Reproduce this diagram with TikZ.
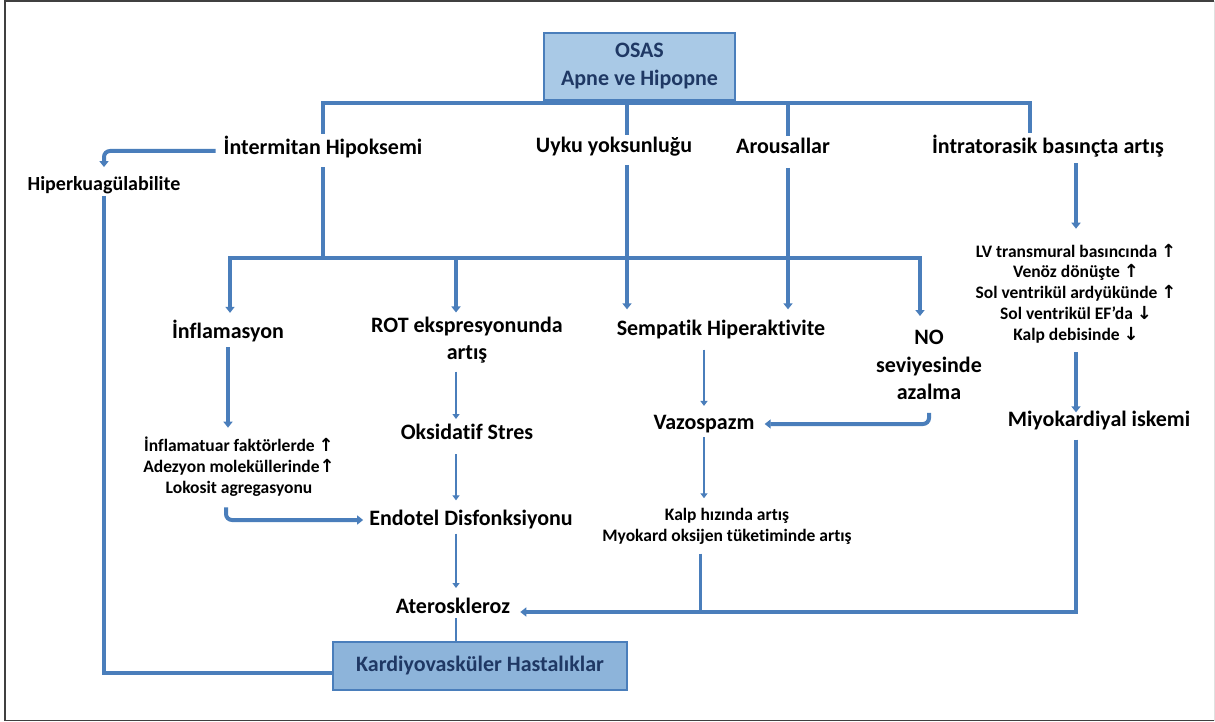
\documentclass[tikz,border=0pt]{standalone}
\usepackage{fontspec}
\setmainfont{Carlito}[Ligatures={NoCommon,NoContextual}]
\newfontfamily\arrowfont{DejaVu Sans}
\newcommand{\upar}{{\arrowfont\fontsize{18}{18}\selectfont ↑}}
\newcommand{\dnar}{{\arrowfont\fontsize{18}{18}\selectfont ↓}}
\usetikzlibrary{arrows.meta,positioning}
\definecolor{linblue}{HTML}{4A7EBB}
\definecolor{boxfill}{HTML}{A9C9E6}
\definecolor{boxfilltwo}{HTML}{8DB4DA}
\definecolor{navytext}{HTML}{1F3864}
\tikzset{lbl/.style={font=\fontsize{22}{27.5}\selectfont\bfseries, align=center, inner sep=2pt}}
\tikzset{sml/.style={font=\fontsize{17.5}{20.8}\selectfont\bfseries, align=center, inner sep=2pt}}
\tikzset{bus/.style={draw=linblue, line width=4pt}}
\tikzset{arr/.style={bus, -{Triangle[width=9pt,length=6pt]}}}
\tikzset{thinarr/.style={draw=linblue, line width=2.4pt, -{Triangle[width=7pt,length=5pt]}}}

\begin{document}
\begin{tikzpicture}[x=1pt, y=-1pt,
                    hdbox/.style={draw=linblue, line width=1.5pt, text=navytext, align=center,
                                  font=\fontsize{22}{28}\selectfont\bfseries}]
    \useasboundingbox (0,0) rectangle (1215,722);
    % Frame
    \draw[black!75, line width=1.5pt] (1214,1) -- (5,1) -- (5,720.5) -- (1214,720.5);
    \draw[black!12, line width=1pt] (1214,1) -- (1214,720.5);

    % Nodes
    \node [hdbox, fill=boxfill, minimum width=191pt, minimum height=67pt] (osas) at (639.5,66.5) {OSAS\\Apne ve Hipopne};
    \node [lbl] (hipoks)   at (323,147)  {İntermitan Hipoksemi};
    \node [lbl] (uyku)     at (614,147)  {Uyku yoksunluğu};
    \node [lbl] (arousal)  at (783,146)  {Arousallar};
    \node [lbl] (intra)    at (1048,146) {İntratorasik basınçta artış};
    \node [lbl, font=\fontsize{20}{24}\selectfont\bfseries] (hiperk) at (104,185) {Hiperkuagülabilite};
    \node [lbl] (inflam)   at (228,331)  {İnflamasyon};
    \node [lbl] (rot)      at (467,340)  {ROT ekspresyonunda\\artış};
    \node [lbl] (sempatik) at (721,330)  {Sempatik Hiperaktivite};
    \node [lbl] (nolevel)  at (929,365)  {NO\\seviyesinde\\azalma};
    \node [sml] (lvblock)  at (1076,293.5) {LV transmural basıncında \upar\\Venöz dönüşte \upar\\Sol ventrikül ardyükünde \upar\\Sol ventrikül EF’da \dnar\\Kalp debisinde \dnar};
    \node [lbl] (oksid)    at (467,432)  {Oksidatif Stres};
    \node [lbl] (vazo)     at (704,424)  {Vazospazm};
    \node [lbl] (miyo)     at (1099,421) {Miyokardiyal iskemi};
    \node [sml] (inffak)   at (239,466.5) {İnflamatuar faktörlerde \upar\\Adezyon moleküllerinde\upar\\Lokosit agregasyonu};
    \node [lbl] (endotel)  at (471,520)  {Endotel Disfonksiyonu};
    \node [sml] (kalphiz)  at (727,526.5) {Kalp hızında artış\\Myokard oksijen tüketiminde artış};
    \node [lbl] (ateros)   at (453,606)  {Ateroskleroz};
    \node [hdbox, fill=boxfilltwo, minimum width=294pt, minimum height=48pt] (kvh) at (480,666) {Kardiyovasküler Hastalıklar};

    % Bus points
    \coordinate (tbL)   at (323,103);
    \coordinate (tbU)   at (627,103);
    \coordinate (tbA)   at (788,103);
    \coordinate (tbR)   at (1030,103);
    \coordinate (bbL)   at (230,258);
    \coordinate (bbRot) at (456,258);
    \coordinate (bbR)   at (920,258);
    \coordinate (btm)   at (700,612);

    % Paths
    \path [bus] (hipoks.north) -- (tbL) -- (tbR) -- (tbR |- intra.north);
    \path [bus] (tbU) -- (tbU |- uyku.north);
    \path [bus] (tbA) -- (tbA |- arousal.north);
    \path [arr, rounded corners=6pt, shorten <=6pt, shorten >=7pt] ([yshift=-4pt]hipoks.west) -| (hiperk.north);
    \path [bus] (hiperk.south) |- ([yshift=-7pt]kvh.west);
    \path [bus, shorten <=7pt] (hipoks.south) -- (hipoks.south |- bbL);
    \path [bus, {Triangle[width=9pt,length=6pt]}-{Triangle[width=9pt,length=6pt]}, shorten <=5pt, shorten >=12pt]
          (bbL |- inflam.north) -- (bbL) -- (bbR) -- (bbR |- nolevel.north);
    \path [arr, shorten >=2pt] (bbRot) -- (bbRot |- rot.north);
    \path [arr, shorten <=6pt, shorten >=9pt] (tbU |- uyku.south) -- (tbU |- sempatik.north);
    \path [arr, shorten <=12pt, shorten >=9pt] (tbA |- arousal.south) -- (tbA |- sempatik.north);
    \path [arr, shorten <=4pt, shorten >=13pt] (lvblock.north |- intra.south) -- (lvblock.north);
    \path [arr, shorten <=3pt, shorten >=7pt] (inflam.south) -- (inflam.south |- inffak.north);
    \path [thinarr, shorten <=6pt, shorten >=3pt] (bbRot |- rot.south) -- (bbRot |- oksid.north);
    \path [thinarr, shorten <=12pt, shorten >=8pt] (bbRot |- oksid.south) -- (bbRot |- endotel.north);
    \path [thinarr, shorten <=2pt, shorten >=8pt] (bbRot |- endotel.south) -- (bbRot |- ateros.north);
    \path [draw=linblue, line width=2.4pt, shorten <=2pt] (bbRot |- ateros.south) -- (bbRot |- kvh.north);
    \path [arr, rounded corners=6pt, shorten <=9pt, shorten >=4pt] ([xshift=-13pt]inffak.south) |- (endotel.west);
    \path [thinarr, shorten <=8pt, shorten >=7pt] (vazo.north |- sempatik.south) -- (vazo.north);
    \path [thinarr, shorten <=2pt, shorten >=8pt] (vazo.south) -- (vazo.south |- kalphiz.north);
    \path [arr, rounded corners=6pt, shorten <=11pt, shorten >=8pt] (nolevel.south) |- (vazo.east);
    \path [arr, shorten <=7pt, shorten >=-3pt] (lvblock.south) -- (lvblock.south |- miyo.north);
    \path [arr, shorten <=7pt, shorten >=8pt] (lvblock.south |- miyo.south) |- (btm -| ateros.east);
    \path [bus, line width=3pt, shorten <=7pt] (btm |- kalphiz.south) -- (btm);
\end{tikzpicture}
\end{document}
